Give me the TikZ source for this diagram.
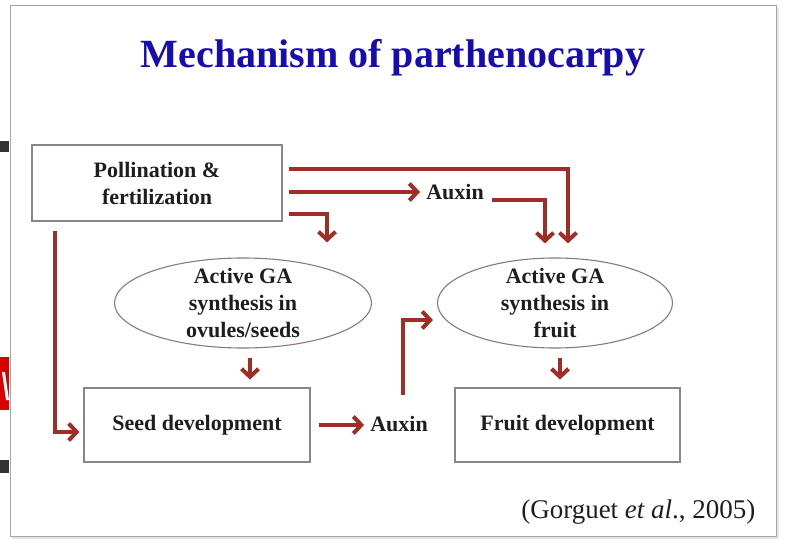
\documentclass[tikz,border=0pt]{standalone}
\usepackage{fontspec}
\setmainfont{Liberation Serif}
\usetikzlibrary{arrows.meta,calc,shapes.geometric}
\definecolor{arrred}{RGB}{158,46,38}
\definecolor{titleblue}{RGB}{22,12,178}
\definecolor{boxgrey}{RGB}{135,135,135}
\definecolor{ovalgrey}{RGB}{140,120,118}
\definecolor{txtdark}{RGB}{30,30,30}
\tikzset{
  arr/.style={draw=arrred, line width=4pt, -{Straight Barb[length=8pt,width=17pt]}},
  rbox/.style={draw=boxgrey, line width=1.2pt, fill=white, inner sep=0pt},
  ovalbox/.style={ellipse, draw=ovalgrey, line width=1.1pt, inner sep=0pt},
  txt/.style={font=\fontsize{22}{27}\selectfont\bfseries, text=txtdark, align=center},
  auxtxt/.style={font=\fontsize{22}{27}\selectfont\bfseries, text=txtdark, inner xsep=6pt, inner ysep=3pt}
}
\begin{document}
\begin{tikzpicture}[x=1pt,y=-1pt]
\useasboundingbox (0,0) rectangle (786,540);
% page background and slide
\fill[white] (0,0) rectangle (786,540);
\fill[black!10] (12,8) rectangle (779,539);
\filldraw[fill=white, draw=black!35, line width=1pt] (10,6) rectangle (776,536);
% background artifacts on the left
\fill[black!80] (0,141) rectangle (9,152);
\fill[black!80] (0,460) rectangle (9,473);
\fill[red!85!black] (0,357) rectangle (9,410);
\fill[white] (2,372) -- (5,372) -- (9,400) -- (6,400) -- cycle;
% title
\node[font=\fontsize{40}{48}\selectfont\bfseries, text=titleblue] (title) at (393,58) {Mechanism of parthenocarpy};
% nodes
\node[rbox, minimum width=250pt, minimum height=76pt] (poll) at (157,183) {};
\node[txt] (pollt) at (poll) {Pollination \&\\fertilization};
\node[ovalbox, minimum width=257pt, minimum height=90pt] (gaL) at (243,303) {};
\node[txt] (gaLt) at (gaL) {Active GA\\synthesis in\\ovules/seeds};
\node[ovalbox, minimum width=235pt, minimum height=90pt] (gaR) at (555,303) {};
\node[txt] (gaRt) at (gaR) {Active GA\\synthesis in\\fruit};
\node[rbox, minimum width=226pt, minimum height=74pt] (seed) at (197,425) {};
\node[txt] (seedt) at (seed) {Seed development};
\node[rbox, minimum width=225pt, minimum height=74pt] (fruit) at (567.5,425) {};
\node[txt] (fruitt) at (fruit) {Fruit development};
\node[auxtxt] (aux1) at (455,192) {Auxin};
\node[auxtxt] (aux2) at (399,424) {Auxin};
\node[font=\fontsize{27}{32}\selectfont, text=txtdark, anchor=east] (cite) at (759,512) {(Gorguet \textit{et al}., 2005)};
% connectors
\draw[arr] ($(poll.east)+(6,-14)$) -| ($(gaR.north)+(13,-14)$);
\draw[arr] ($(poll.east)+(6,9)$) -- (aux1.west);
\draw[arr] ($(aux1.east)+(2,8)$) -| ($(gaR.north)+(-10,-14)$);
\draw[arr] ($(poll.east)+(6,31)$) -| ($(gaL.north)+(84,-15)$);
\draw[arr] ($(poll.south west)+(24,9)$) |- ($(seed.west)+(-4,7)$);
\draw[arr] ($(gaL.south)+(7,9)$) -- ($(gaL.south)+(7,31)$);
\draw[arr] ($(gaR.south)+(5,9)$) -- ($(gaR.south)+(5,31)$);
\draw[arr] ($(seed.east)+(8,0)$) -- (aux2.west |- {$(seed.east)+(8,0)$});
\draw[arr] ($(aux2.center)+(4,-29)$) |- ($(gaR.west)+(-4,17)$);
\end{tikzpicture}
\end{document}
